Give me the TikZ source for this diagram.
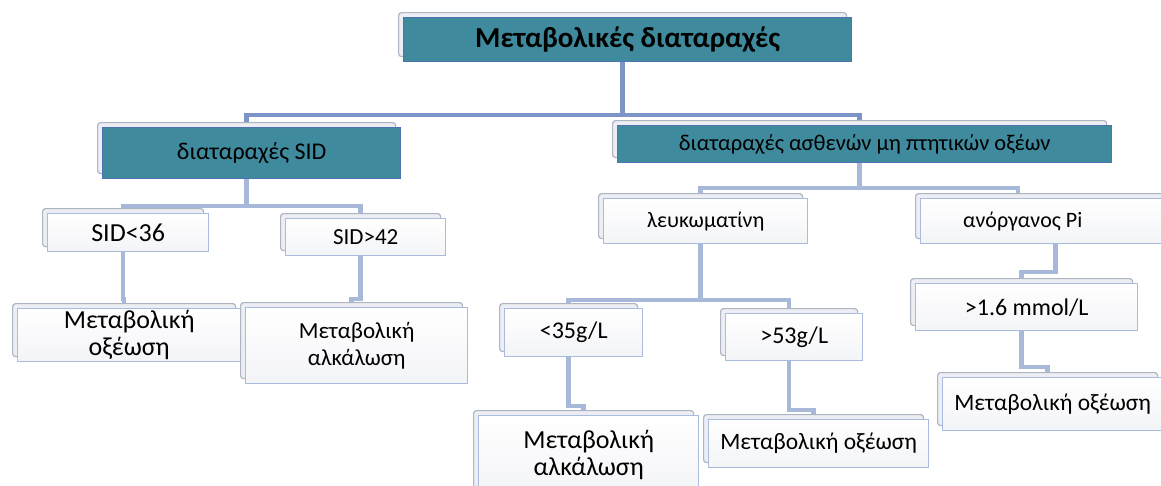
\documentclass[tikz,border=0pt]{standalone}
\usepackage{fontspec}
\setmainfont{Carlito}
\definecolor{tealF}{HTML}{3F8B9D}
\definecolor{tealD}{HTML}{4F72B2}
\definecolor{backFill}{HTML}{ECEEF3}
\definecolor{backDraw}{HTML}{ADB4C2}
\definecolor{frontDraw}{HTML}{A9BCDD}
\definecolor{frontBot}{HTML}{F3F4F7}
\definecolor{connA}{HTML}{7C94C7}
\definecolor{connB}{HTML}{A8B8D9}
\pgfdeclarelayer{bg}
\pgfsetlayers{bg,main}
\tikzset{
  backT/.style={draw=backDraw, fill=backFill, rounded corners=3pt, line width=1.2pt, anchor=north west, inner sep=0pt},
  backW/.style={draw=backDraw, fill=backFill, rounded corners=3pt, line width=1.2pt, anchor=north west, inner sep=0pt},
  frontT/.style={draw=tealD, fill=tealF, line width=1.4pt, anchor=north west, inner sep=0pt, align=center, text=black},
  frontW/.style={draw=frontDraw, top color=white, bottom color=frontBot, line width=1.4pt, anchor=north west, inner sep=0pt, align=center, text=black},
  connTop/.style={draw=connA, line width=4.5pt},
  connLow/.style={draw=connB, line width=4.5pt},
}
% #1 name, #2 x, #3 y, #4 width, #5 height, #6 kind, #7 font size, #8 text
\newcommand\mkbox[8]{%
  \node[back#6, minimum width=#4pt, minimum height=#5pt] (#1B) at (#2,#3) {};
  \node[front#6, minimum width=#4pt, minimum height=#5pt, font=\fontsize{#7}{27}\selectfont] (#1) at ({#2+5},{#3+5}) {#8};
}
\begin{document}
\begin{tikzpicture}[x=1pt,y=-1pt]
\path[use as bounding box] (0,0) rectangle (1161,485);
\begin{pgfonlayer}{bg}
\fill[white] (0,0) rectangle (1161,485);
\end{pgfonlayer}

\mkbox{top}{398}{12}{448}{44}{T}{29}{\bfseries Μεταβολικές διαταραχές}
\mkbox{sid}{97}{122}{298}{51}{T}{24}{διαταραχές SID}
\mkbox{weak}{612}{120}{494}{37}{T}{22.5}{διαταραχές ασθενών μη πτητικών οξέων}
\mkbox{sidlt}{42}{208}{161}{38}{W}{26}{SID<36}
\mkbox{sidgt}{280}{213}{160}{37}{W}{23}{SID>42}
\mkbox{leftOx}{12}{303}{223}{53}{W}{26}{Μεταβολική\\οξέωση}
\mkbox{leftAlk}{240}{302}{222}{76}{W}{23}{Μεταβολική\\αλκάλωση}
\mkbox{lefk}{598}{193}{204}{45}{W}{22}{λευκωματίνη}
\mkbox{anorg}{915}{193}{280}{45}{W}{22}{\hspace*{-76pt}ανόργανος Pi}
\mkbox{mmol}{910}{278}{222}{47}{W}{24}{>1.6 mmol/L}
\mkbox{ltalb}{499}{303}{138}{48}{W}{24}{<35g/L}
\mkbox{gtalb}{720}{308}{137}{47}{W}{24}{>53g/L}
\mkbox{botAlk}{473}{410}{220}{78}{W}{26}{Μεταβολική\\αλκάλωση}
\mkbox{botOx}{703}{414}{220}{48}{W}{23.5}{Μεταβολική οξέωση}
\mkbox{rightOx}{937}{372}{220}{53}{W}{23.5}{Μεταβολική οξέωση}

\coordinate (b1) at (0,115);
\coordinate (b2) at (0,206);
\coordinate (b3) at (0,188);
\coordinate (b4) at (0,299);
\coordinate (b5) at (0,300);
\coordinate (b6) at (0,406);
\coordinate (b7) at (0,410);
\coordinate (b8) at (0,272);
\coordinate (b9) at (0,367);
\coordinate (anorgIn) at (1018,196);

\begin{pgfonlayer}{bg}
\draw[connTop] (topB.south) -- (topB.south |- b1) -| (sidB.north);
\draw[connTop] (topB.south |- b1) -| (weakB.north);
\draw[connLow] (sidB.south) -- (sidB.south |- b2) -| (sidltB.north);
\draw[connLow] (sidB.south |- b2) -| (sidgtB.north);
\draw[connLow] (weakB.south) -- (weakB.south |- b3) -| (lefkB.north);
\draw[connLow] (weakB.south |- b3) -| (anorgIn);
\draw[connLow] (sidltB.south) -- (sidltB.south |- b4) -| (leftOxB.north);
\draw[connLow] (sidgtB.south) -- (sidgtB.south |- b4) -| (leftAlkB.north);
\draw[connLow] (lefkB.south) -- (lefkB.south |- b5) -| (ltalbB.north);
\draw[connLow] (lefkB.south |- b5) -| (gtalbB.north);
\draw[connLow] (ltalbB.south) -- (ltalbB.south |- b6) -| (botAlkB.north);
\draw[connLow] (gtalbB.south) -- (gtalbB.south |- b7) -| (botOxB.north);
\draw[connLow] (anorgB.south) -- (anorgB.south |- b8) -| (mmolB.north);
\draw[connLow] (mmolB.south) -- (mmolB.south |- b9) -| (rightOxB.north);
\end{pgfonlayer}
\end{tikzpicture}
\end{document}
